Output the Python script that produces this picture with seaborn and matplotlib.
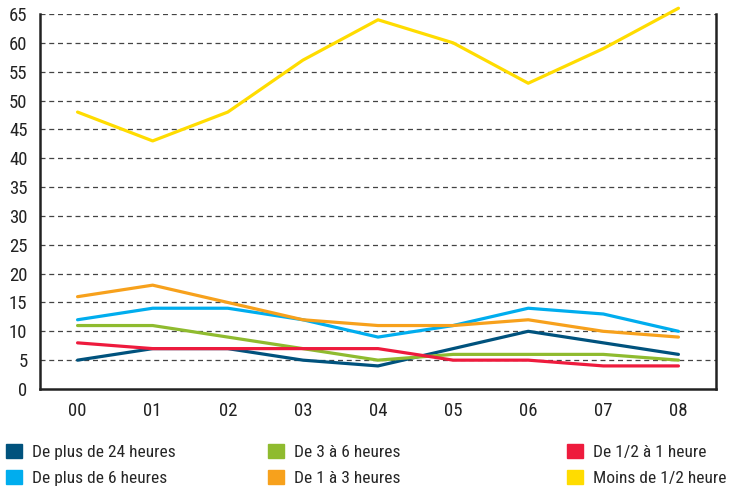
import pandas as pd
import matplotlib
matplotlib.use("Agg")
import matplotlib.pyplot as plt
import matplotlib.patches as mpatches
import seaborn as sns

# Data
periods = ["00", "01", "02", "03", "04", "05", "06", "07", "08"]
plus_24h = [5, 7, 7, 5, 4, 7, 10, 8, 6]
plus_6h = [12, 14, 14, 12, 9, 11, 14, 13, 10]
de_3_6h = [11, 11, 9, 7, 5, 6, 6, 6, 5]
de_1_3h = [16, 18, 15, 12, 11, 11, 12, 10, 9]
de_half_1h = [8, 7, 7, 7, 7, 5, 5, 4, 4]
moins_half = [48, 43, 48, 57, 64, 60, 53, 59, 66]

series = {
    "De plus de 24 heures": plus_24h,
    "De plus de 6 heures": plus_6h,
    "De 3 à 6 heures": de_3_6h,
    "De 1 à 3 heures": de_1_3h,
    "De 1/2 à 1 heure": de_half_1h,
    "Moins de 1/2 heure": moins_half,
}
palette = {
    "De plus de 24 heures": "#00527d",
    "De plus de 6 heures": "#00adee",
    "De 3 à 6 heures": "#8fbb2f",
    "De 1 à 3 heures": "#f7a11c",
    "De 1/2 à 1 heure": "#ee1b3d",
    "Moins de 1/2 heure": "#ffdc00",
}

rows = []
for name, vals in series.items():
    for i, v in enumerate(vals):
        rows.append({"pos": i, "serie": name, "valeur": v})
df = pd.DataFrame(rows)

sns.set_theme(style="white")
plt.rcParams["font.family"] = ["Roboto Condensed", "DejaVu Sans"]

fig = plt.figure(figsize=(7.3, 4.86), dpi=100)
ax = fig.add_axes([40 / 730, 1 - 389 / 486, 676 / 730, 375 / 486])

# yellow drawn last (on top), as in the reference
draw_order = ["De plus de 24 heures", "De plus de 6 heures", "De 1 à 3 heures",
              "De 3 à 6 heures", "De 1/2 à 1 heure", "Moins de 1/2 heure"]
for name in draw_order:
    sns.lineplot(data=df[df["serie"] == name], x="pos", y="valeur",
                 color=palette[name], linewidth=2.3, ax=ax, legend=False)
for line in ax.get_lines():
    line.set_clip_on(False)  # the last yellow point goes above 65

ax.set_xlim(-0.5, 8.5)
ax.set_ylim(0, 65)
ax.set_yticks(range(0, 70, 5))
ax.set_xticks(range(len(periods)))
ax.set_xticklabels(periods)
ax.set_xticks([i + 0.5 for i in range(8)], minor=True)
ax.tick_params(axis="x", which="major", length=0, pad=9, labelsize=13.5, colors="#222222")
ax.tick_params(axis="x", which="minor", direction="in", length=8, width=1.5, color="#222222")
ax.tick_params(axis="y", length=0, pad=9, labelsize=13.5, colors="#222222")
ax.set_xlabel("")
ax.set_ylabel("")

for y in range(5, 70, 5):
    ax.axhline(y, color="#444444", linestyle=(0, (4, 3)), linewidth=0.9, zorder=0)

for side in ["left", "bottom", "right"]:
    ax.spines[side].set_visible(True)
    ax.spines[side].set_color("#222222")
    ax.spines[side].set_linewidth(1.8)
ax.spines["top"].set_visible(False)

# legend in three columns placed like the reference
columns = [
    (6 / 730, ["De plus de 24 heures", "De plus de 6 heures"]),
    (268 / 730, ["De 3 à 6 heures", "De 1 à 3 heures"]),
    (567 / 730, ["De 1/2 à 1 heure", "Moins de 1/2 heure"]),
]
for x0, names in columns:
    handles = [mpatches.Patch(color=palette[n], label=n) for n in names]
    fig.legend(handles=handles, loc="lower left", bbox_to_anchor=(x0, 0.0),
               frameon=False, fontsize=12.5, handlelength=0.9, handleheight=0.85,
               handletextpad=0.6, labelspacing=0.6, borderpad=0.0,
               borderaxespad=0.0)

fig.savefig("out.png", dpi=100)
